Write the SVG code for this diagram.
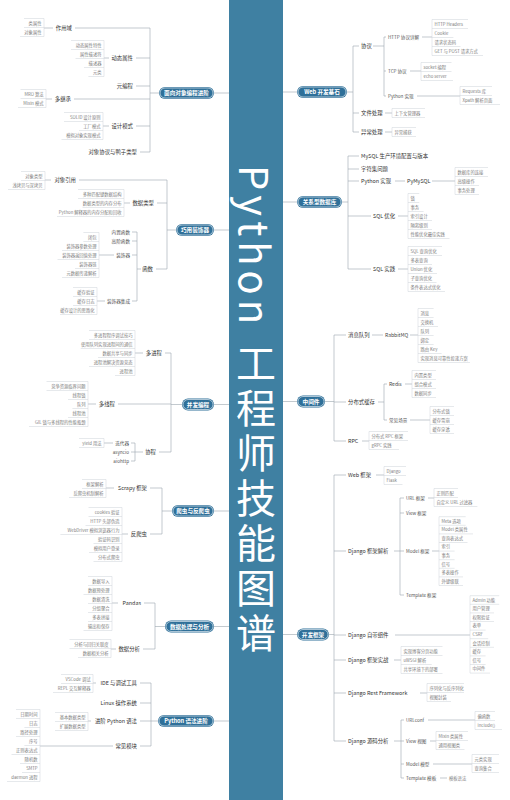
<svg xmlns="http://www.w3.org/2000/svg" width="510" height="800" viewBox="0 0 510 800">
<style>
text{font-family:"Noto Sans CJK SC","Noto Sans",sans-serif}
.c{stroke:#9aa6ae;stroke-width:.6;fill:none}
.bx{stroke:#cdd3d8;stroke-width:.5;fill:none}
.b{font-size:5.4px;fill:#333}
.s{font-size:4.6px;fill:#555}
.m{font-size:5px;fill:#444}
.l{font-size:4.3px;fill:#7d7d7d}
.e{text-anchor:end}
.p{font-size:5.6px;fill:#fff;font-weight:700;text-anchor:middle}
.po{fill:#2f7099}
.pi{fill:none;stroke:#fff;stroke-width:.6}
.title{font-size:40px;fill:#fff;letter-spacing:5px;writing-mode:vertical-rl}
</style>
<rect width="510" height="800" fill="#fff"/>

<!-- central title bar -->
<g id="title">
<rect x="229" y="0" width="54" height="800" fill="#3f80a2"/>
<text class="title" x="256" y="165">Python 工程师技能图谱</text>
</g>

<!-- connectors -->
<g id="connectors" class="c">
<path d="M229,93H214M159,93H150M150,28V152M75,28H150M136,58H150M136,86H150M74,99H150M136,126H150M140,152H150M44,28H53M104,58H109M46,99H52M103,126H109"/>
<path d="M214,230H229M176,230H167M167,180V269M79,180H167M157,203H167M156,269H167M45,180H51M124,203H130M137,269H141M137,232V301M132,232H137M132,241H137M132,255H137M132,301H137M99,255H114M97,301H105"/>
<path d="M214,404.5H229M182,404.5H171M171,353V452M165,353H171M118,404H171M159,452H171M135,353H143M88,404H96M135,452H143M135,443V461M131,443H135M131,452H135M131,461H135M104,443H113"/>
<path d="M214,511H229M172,511H162M162,488V534M150,488H162M150,534H162M106,488H114M122,534H128"/>
<path d="M214,626.5H229M165,626.5H155M155,603V649M144,603H155M143,649H155M112,603H118M111,649H116"/>
<path d="M214,721H229M158,721H151M151,683V746M140,683H151M140,703H151M140,721H151M140,746H151M93,683H96M88,721H91M40,746H113"/>
<path d="M283,92H297M347,92H353M353,46V132M353,46H359M353,113H359M353,132H359M373,46H384M384,37V96M384,37H386M384,71H386M384,96H386M422,37H432M410,71H421M417,96H460M385,113H392M385,132H392"/>
<path d="M283,202H297M342,202H348M348,156V269M348,156H359M348,169H359M348,181H359M348,216H371M348,269H371M395,181H405M432,181H455M398,216H408M398,269H408"/>
<path d="M283,401.5H297M325,401.5H334M334,335V441M334,335H346M334,402H346M334,441H346M372,335H383M410,335H418M378,402H384M384,384V420M384,384H387M384,420H387M405,384H412M410,420H430M362,441H369"/>
<path d="M283,634.5H297M329,634.5H334M334,475V741M334,475H346M334,551H346M334,635H346M334,660H346M334,693H346M334,741H346M376,475H384M394,551H400M400,498V595M400,498H404M400,513H404M400,551H404M400,595H404M428,498H434M432,551H439M395,635H470M394,660H401M420,693H427M394,741H401M401,720V778M401,720H404M401,741H404M401,764H404M401,778H404M428,720H475M430,741H436M433,764H472M440,778H447"/>
</g>

<!-- left: object oriented -->
<g id="oop">
<rect class="po" x="159" y="87" width="55" height="12" rx="6"/><rect class="pi" x="160" y="88" width="53" height="10" rx="5"/>
<text class="p" x="186.5" y="95">面向对象编程进阶</text>
<g id="oop-scope">
<text class="b e" x="72" y="30">作用域</text>
<path class="bx" d="M44,18.5V36.5M44,18.5h-20M44,27.5h-20M44,36.5h-24"/>
<text class="l e" x="41.5" y="24.6">类属性</text><text class="l e" x="41.5" y="33.6">对象属性</text>
</g>
<g id="oop-dyn">
<text class="b e" x="133" y="60">动态属性</text>
<path class="bx" d="M104,40.5V76.5M104,40.5h-33M104,49.5h-33M104,58.5h-28.5M104,67.5h-20M104,76.5h-15.6"/>
<text class="l e" x="101.5" y="46.6">动态属性特性</text><text class="l e" x="101.5" y="55.6">属性描述符</text><text class="l e" x="101.5" y="64.6">描述器</text><text class="l e" x="101.5" y="73.6">元类</text>
</g>
<g id="oop-meta"><text class="b e" x="133" y="88">元编程</text></g>
<g id="oop-mi">
<text class="b e" x="71" y="101">多继承</text>
<path class="bx" d="M46,89.5V107.5M46,89.5h-25.5M46,98.5h-25.5M46,107.5h-28"/>
<text class="l e" x="43.5" y="95.6">MRO 算法</text><text class="l e" x="43.5" y="104.6">Mixin 模式</text>
</g>
<g id="oop-dp">
<text class="b e" x="133" y="128">设计模式</text>
<path class="bx" d="M103,112.5V139.5M103,112.5h-39M103,121.5h-39M103,130.5h-24M103,139.5h-41.5"/>
<text class="l e" x="100.5" y="118.6">SOLID 设计原则</text><text class="l e" x="100.5" y="127.6">工厂模式</text><text class="l e" x="100.5" y="136.6">模拟对象实现模式</text>
</g>
<g id="oop-duck"><text class="b e" x="137" y="154">对象协议与鸭子类型</text></g>
</g>

<!-- left: decorators -->
<g id="decorator">
<rect class="po" x="176" y="224" width="38" height="12" rx="6"/><rect class="pi" x="177" y="225" width="36" height="10" rx="5"/>
<text class="p" x="195" y="232">巧用装饰器</text>
<g id="dec-ref">
<text class="b e" x="76" y="182">对象引用</text>
<path class="bx" d="M45,171.5V189.5M45,171.5h-24M45,180.5h-24M45,189.5h-37"/>
<text class="l e" x="42.5" y="177.6">对象类型</text><text class="l e" x="42.5" y="186.6">浅拷贝与深拷贝</text>
</g>
<g id="dec-types">
<text class="b e" x="154" y="205">数据类型</text>
<path class="bx" d="M124,189.5V216.5M124,189.5h-46M124,198.5h-46M124,207.5h-41.5M124,216.5h-67"/>
<text class="l e" x="121.5" y="195.6">多种匹配键数据结构</text><text class="l e" x="121.5" y="204.6">数据类型的内存分布</text><text class="l e" x="121.5" y="213.6">Python 解释器的内存分配和回收</text>
</g>
<g id="dec-func">
<text class="b e" x="153" y="271">函数</text>
<text class="s e" x="130" y="233.7">内置函数</text>
<text class="s e" x="130" y="242.7">高阶函数</text>
<text class="s e" x="130" y="256.7">装饰器</text>
<text class="s e" x="130" y="302.7">装饰器集成</text>
<path class="bx" d="M99,232.5V277.5M99,232.5h-15.6M99,241.5h-15.6M99,250.5h-37M99,259.5h-41.5M99,268.5h-24M99,277.5h-37"/>
<text class="l e" x="96.5" y="238.6">闭包</text><text class="l e" x="96.5" y="247.6">装饰器参数处理</text><text class="l e" x="96.5" y="256.6">装饰器返回值处理</text><text class="l e" x="96.5" y="265.6">装饰器链</text><text class="l e" x="96.5" y="274.6">元数据传递解析</text>
<path class="bx" d="M97,287.5V314.5M97,287.5h-24M97,296.5h-24M97,305.5h-24M97,314.5h-37"/>
<text class="l e" x="94.5" y="293.6">缓存验证</text><text class="l e" x="94.5" y="302.6">缓存日志</text><text class="l e" x="94.5" y="311.6">缓存设计的思路化</text>
</g>
</g>

<!-- left: concurrency -->
<g id="concurrency">
<rect class="po" x="182" y="398.5" width="32" height="12" rx="6"/><rect class="pi" x="183" y="399.5" width="30" height="10" rx="5"/>
<text class="p" x="198" y="406.5">并发编程</text>
<g id="con-proc">
<text class="b e" x="162" y="355">多进程</text>
<path class="bx" d="M135,330.5V375.5M135,330.5h-46M135,339.5h-46M135,348.5h-54.3M135,357.5h-37M135,366.5h-46M135,375.5h-20"/>
<text class="l e" x="132.5" y="336.6">多进程程序调试技巧</text><text class="l e" x="132.5" y="345.6">使用队列实现进程间的通信</text><text class="l e" x="132.5" y="354.6">数据共享与同步</text><text class="l e" x="132.5" y="363.6">进程池解决资源竞态</text><text class="l e" x="132.5" y="372.6">进程池</text>
</g>
<g id="con-thread">
<text class="b e" x="115" y="406">多线程</text>
<path class="bx" d="M88,381.5V426.5M88,381.5h-41.5M88,390.5h-41.5M88,399.5h-20M88,408.5h-15.6M88,417.5h-20M88,426.5h-59"/>
<text class="l e" x="85.5" y="387.6">竞争资源临界问题</text><text class="l e" x="85.5" y="396.6">线程锁</text><text class="l e" x="85.5" y="405.6">队列</text><text class="l e" x="85.5" y="414.6">线程池</text><text class="l e" x="85.5" y="423.6">GIL 锁与多线程的性能瓶颈</text>
</g>
<g id="con-co">
<text class="b e" x="156" y="454">协程</text>
<text class="s e" x="129" y="444.7">迭代器</text>
<text class="s e" x="129" y="453.7">asyncio</text>
<text class="s e" x="129" y="462.7">aiohttp</text>
<path class="bx" d="M104,438.5V447.5M104,438.5h-25M104,447.5h-25"/>
<text class="l e" x="101.5" y="444.6">yield 用法</text>
</g>
</g>

<!-- left: crawler -->
<g id="crawler">
<rect class="po" x="172" y="505" width="42" height="12" rx="6"/><rect class="pi" x="173" y="506" width="40" height="10" rx="5"/>
<text class="p" x="193" y="513">爬虫与反爬虫</text>
<g id="cr-scrapy">
<text class="b e" x="147" y="490">Scrapy 框架</text>
<path class="bx" d="M106,479.5V497.5M106,479.5h-24M106,488.5h-24M106,497.5h-37"/>
<text class="l e" x="103.5" y="485.6">框架解析</text><text class="l e" x="103.5" y="494.6">反爬虫机制解析</text>
</g>
<g id="cr-anti">
<text class="b e" x="147" y="536">反爬虫</text>
<path class="bx" d="M122,507.5V561.5M122,507.5h-33.5M122,516.5h-33.5M122,525.5h-36.5M122,534.5h-61.6M122,543.5h-28.5M122,552.5h-33M122,561.5h-28.5"/>
<text class="l e" x="119.5" y="513.6">cookies 验证</text><text class="l e" x="119.5" y="522.6">HTTP 头部伪造</text><text class="l e" x="119.5" y="531.6">WebDriver 模拟浏览器行为</text><text class="l e" x="119.5" y="540.6">验证码识别</text><text class="l e" x="119.5" y="549.6">模拟用户登录</text><text class="l e" x="119.5" y="558.6">分布式爬虫</text>
</g>
</g>

<!-- left: data processing -->
<g id="data">
<rect class="po" x="165" y="620.5" width="49" height="12" rx="6"/><rect class="pi" x="166" y="621.5" width="47" height="10" rx="5"/>
<text class="p" x="189.5" y="628.5">数据处理与分析</text>
<g id="data-pandas">
<text class="b e" x="141" y="605">Pandas</text>
<path class="bx" d="M112,576.5V630.5M112,576.5h-24M112,585.5h-24M112,594.5h-28.5M112,603.5h-24M112,612.5h-24M112,621.5h-24M112,630.5h-28.5"/>
<text class="l e" x="109.5" y="582.6">数据导入</text><text class="l e" x="109.5" y="591.6">数据预处理</text><text class="l e" x="109.5" y="600.6">数据清洗</text><text class="l e" x="109.5" y="609.6">分组聚合</text><text class="l e" x="109.5" y="618.6">多表拼接</text><text class="l e" x="109.5" y="627.6">输出和保存</text>
</g>
<g id="data-analysis">
<text class="b e" x="140" y="651">数据分析</text>
<path class="bx" d="M111,639.5V657.5M111,639.5h-41.5M111,648.5h-41.5M111,657.5h-33"/>
<text class="l e" x="108.5" y="645.6">分析与回归关联度</text><text class="l e" x="108.5" y="654.6">数据相关分析</text>
</g>
</g>

<!-- left: python syntax -->
<g id="syntax">
<rect class="po" x="158" y="715" width="56" height="12" rx="6"/><rect class="pi" x="159" y="716" width="54" height="10" rx="5"/>
<text class="p" x="186" y="723">Python 语法进阶</text>
<g id="syn-ide">
<text class="b e" x="137" y="685">IDE 与调试工具</text>
<path class="bx" d="M93,674.5V692.5M93,674.5h-32M93,683.5h-32M93,692.5h-40"/>
<text class="l e" x="90.5" y="680.6">VSCode 调试</text><text class="l e" x="90.5" y="689.6">REPL 交互解释器</text>
</g>
<g id="syn-linux"><text class="b e" x="137" y="705">Linux 操作系统</text></g>
<g id="syn-adv">
<text class="b e" x="137" y="723">进阶 Python 语法</text>
<path class="bx" d="M88,712.5V730.5M88,712.5h-33M88,721.5h-33M88,730.5h-33"/>
<text class="l e" x="85.5" y="718.6">基本数据类型</text><text class="l e" x="85.5" y="727.6">扩展数据类型</text>
</g>
<g id="syn-mod">
<text class="b e" x="137" y="748">常见模块</text>
<path class="bx" d="M40,709.5V781.5M40,709.5h-24M40,718.5h-24M40,727.5h-15.6M40,736.5h-24M40,745.5h-15.6M40,754.5h-28.5M40,763.5h-20M40,772.5h-18M40,781.5h-33"/>
<text class="l e" x="37.5" y="715.6">日期时间</text><text class="l e" x="37.5" y="724.6">日志</text><text class="l e" x="37.5" y="733.6">路径处理</text><text class="l e" x="37.5" y="742.6">序号</text><text class="l e" x="37.5" y="751.6">正则表达式</text><text class="l e" x="37.5" y="760.6">随机数</text><text class="l e" x="37.5" y="769.6">SMTP</text><text class="l e" x="37.5" y="778.6">daemon 进程</text>
</g>
</g>

<!-- right: web basics -->
<g id="web">
<rect class="po" x="297" y="86" width="50" height="12" rx="6"/><rect class="pi" x="298" y="87" width="48" height="10" rx="5"/>
<text class="p" x="322" y="94">Web 开发基石</text>
<g id="web-proto">
<text class="b" x="361" y="48">协议</text>
<text class="s" x="388" y="38.7">HTTP 协议详解</text>
<path class="bx" d="M432,19.5V55.5M432,19.5h36M432,28.5h36M432,37.5h21.4M432,46.5h28.5M432,55.5h51"/>
<text class="l" x="434.5" y="25.6">HTTP Headers</text><text class="l" x="434.5" y="34.6">Cookie</text><text class="l" x="434.5" y="43.6">请求状态码</text><text class="l" x="434.5" y="52.6">GET 与 POST 请求方式</text>
<text class="s" x="388" y="72.7">TCP 协议</text>
<path class="bx" d="M421,62.5V80.5M421,62.5h30.5M421,71.5h30.5M421,80.5h32"/>
<text class="l" x="423.5" y="68.6">socket 编程</text><text class="l" x="423.5" y="77.6">echo server</text>
<text class="s" x="388" y="97.7">Python 实现</text>
<path class="bx" d="M460,86.5V104.5M460,86.5h32M460,95.5h32M460,104.5h40"/>
<text class="l" x="462.5" y="92.6">Requests 库</text><text class="l" x="462.5" y="101.6">Xpath 解析页面</text>
</g>
<g id="web-file">
<text class="b" x="361" y="115">文件处理</text>
<path class="bx" d="M392,108.5V117.5M392,108.5h33M392,117.5h33"/>
<text class="l" x="394.5" y="114.6">上下文管理器</text>
</g>
<g id="web-exc">
<text class="b" x="361" y="134">异常处理</text>
<path class="bx" d="M392,127.5V136.5M392,127.5h24M392,136.5h24"/>
<text class="l" x="394.5" y="133.6">异常捕获</text>
</g>
</g>

<!-- right: relational databases -->
<g id="rdb">
<rect class="po" x="297" y="196" width="45" height="12" rx="6"/><rect class="pi" x="298" y="197" width="43" height="10" rx="5"/>
<text class="p" x="319.5" y="204">关系型数据库</text>
<g id="rdb-mysql"><text class="b" x="361" y="158">MySQL 生产环境配置与版本</text></g>
<g id="rdb-charset"><text class="b" x="361" y="171">字符集问题</text></g>
<g id="rdb-py">
<text class="b" x="361" y="183">Python 实现</text>
<text class="b" x="407" y="183">PyMySQL</text>
<path class="bx" d="M455,167.5V194.5M455,167.5h33M455,176.5h33M455,185.5h24M455,194.5h24"/>
<text class="l" x="457.5" y="173.6">数据库的连接</text><text class="l" x="457.5" y="182.6">高级操作</text><text class="l" x="457.5" y="191.6">事务处理</text>
</g>
<g id="rdb-opt">
<text class="b" x="373" y="218">SQL 优化</text>
<path class="bx" d="M408,193.5V238.5M408,193.5h11.3M408,202.5h11.3M408,211.5h15.6M408,220.5h24M408,229.5h24M408,238.5h41.5"/>
<text class="l" x="410.5" y="199.6">锁</text><text class="l" x="410.5" y="208.6">事务</text><text class="l" x="410.5" y="217.6">索引设计</text><text class="l" x="410.5" y="226.6">隔离级别</text><text class="l" x="410.5" y="235.6">性能优化最佳实践</text>
</g>
<g id="rdb-practice">
<text class="b" x="373" y="271">SQL 实践</text>
<path class="bx" d="M408,246.5V291.5M408,246.5h34M408,255.5h34M408,264.5h24M408,273.5h29M408,282.5h28.5M408,291.5h37"/>
<text class="l" x="410.5" y="252.6">SQL 查询优化</text><text class="l" x="410.5" y="261.6">多表查询</text><text class="l" x="410.5" y="270.6">Union 优化</text><text class="l" x="410.5" y="279.6">子查询优化</text><text class="l" x="410.5" y="288.6">条件表达式优化</text>
</g>
</g>

<!-- right: middleware -->
<g id="middleware">
<rect class="po" x="297" y="395.5" width="28" height="12" rx="6"/><rect class="pi" x="298" y="396.5" width="26" height="10" rx="5"/>
<text class="p" x="311" y="403.5">中间件</text>
<g id="mw-mq">
<text class="b" x="348" y="337">消息队列</text>
<text class="m" x="385" y="336.8">RabbitMQ</text>
<path class="bx" d="M418,308.5V362.5M418,308.5h15.6M418,317.5h15.6M418,326.5h20M418,335.5h15.6M418,344.5h15.6M418,353.5h23.6M418,362.5h52"/>
<text class="l" x="420.5" y="314.6">消息</text><text class="l" x="420.5" y="323.6">交换机</text><text class="l" x="420.5" y="332.6">队列</text><text class="l" x="420.5" y="341.6">绑定</text><text class="l" x="420.5" y="350.6">路由 Key</text><text class="l" x="420.5" y="359.6">实现消息可靠性投递方案</text>
</g>
<g id="mw-cache">
<text class="b" x="348" y="404">分布式缓存</text>
<text class="m" x="389" y="385.8">Redis</text>
<path class="bx" d="M412,370.5V397.5M412,370.5h24M412,379.5h24M412,388.5h24M412,397.5h24"/>
<text class="l" x="414.5" y="376.6">内置类型</text><text class="l" x="414.5" y="385.6">组合模式</text><text class="l" x="414.5" y="394.6">数据同步</text>
<text class="s" x="389" y="421.7">常见场景</text>
<path class="bx" d="M430,406.5V433.5M430,406.5h24M430,415.5h24M430,424.5h24M430,433.5h24"/>
<text class="l" x="432.5" y="412.6">分布式锁</text><text class="l" x="432.5" y="421.6">缓存雪崩</text><text class="l" x="432.5" y="430.6">缓存穿透</text>
</g>
<g id="mw-rpc">
<text class="b" x="348" y="443">RPC</text>
<path class="bx" d="M369,431.5V449.5M369,431.5h39M369,440.5h39M369,449.5h30"/>
<text class="l" x="371.5" y="437.6">分布式 RPC 框架</text><text class="l" x="371.5" y="446.6">gRPC 实践</text>
</g>
</g>

<!-- right: frameworks -->
<g id="framework">
<rect class="po" x="297" y="628.5" width="32" height="12" rx="6"/><rect class="pi" x="298" y="629.5" width="30" height="10" rx="5"/>
<text class="p" x="313" y="636.5">开发框架</text>
<g id="fw-web">
<text class="b" x="348" y="477">Web 框架</text>
<path class="bx" d="M384,466.5V484.5M384,466.5h22M384,475.5h22M384,484.5h18.5"/>
<text class="l" x="386.5" y="472.6">Django</text><text class="l" x="386.5" y="481.6">Flask</text>
</g>
<g id="fw-parse">
<text class="b" x="348" y="553">Django 框架解析</text>
<text class="s" x="406" y="499.7">URL 框架</text>
<path class="bx" d="M434,488.5V506.5M434,488.5h24M434,497.5h24M434,506.5h43.4"/>
<text class="l" x="436.5" y="494.6">正则匹配</text><text class="l" x="436.5" y="503.6">自定义 URL 过滤器</text>
<text class="s" x="406" y="514.7">View 框架</text>
<text class="s" x="406" y="552.7">Model 框架</text>
<path class="bx" d="M439,516.7V585.5M439,516.7h26.7M439,525.3h26.7M439,533.9h34M439,542.5h28.5M439,551.1h15.6M439,559.7h15.6M439,568.3h15.6M439,576.9h24M439,585.5h24"/>
<text class="l" x="441.5" y="522.6">Meta 选项</text><text class="l" x="441.5" y="531.2">Model 类属性</text><text class="l" x="441.5" y="539.8">查询表达式</text><text class="l" x="441.5" y="548.4">索引</text><text class="l" x="441.5" y="557">事务</text><text class="l" x="441.5" y="565.6">信号</text><text class="l" x="441.5" y="574.2">多表操作</text><text class="l" x="441.5" y="582.8">外键级联</text>
<text class="s" x="406" y="596.7">Template 框架</text>
</g>
<g id="fw-builtin">
<text class="b" x="348" y="637">Django 自带组件</text>
<path class="bx" d="M470,595.7V673.1M470,595.7h29.2M470,604.3h29.2M470,612.9h24M470,621.5h24M470,630.1h15.6M470,638.7h18.2M470,647.3h24M470,655.9h15.6M470,664.5h15.6M470,673.1h20"/>
<text class="l" x="472.5" y="601.6">Admin 功能</text><text class="l" x="472.5" y="610.2">用户管理</text><text class="l" x="472.5" y="618.8">权限验证</text><text class="l" x="472.5" y="627.4">表单</text><text class="l" x="472.5" y="636">CSRF</text><text class="l" x="472.5" y="644.6">会话控制</text><text class="l" x="472.5" y="653.2">缓存</text><text class="l" x="472.5" y="661.8">信号</text><text class="l" x="472.5" y="670.4">中间件</text>
</g>
<g id="fw-practice">
<text class="b" x="348" y="662">Django 框架实战</text>
<path class="bx" d="M401,646.5V673.5M401,646.5h41.5M401,655.5h41.5M401,664.5h30.7M401,673.5h41.5"/>
<text class="l" x="403.5" y="652.6">实现博客分页功能</text><text class="l" x="403.5" y="661.6">uWSGI 解析</text><text class="l" x="403.5" y="670.6">共享环境下的部署</text>
</g>
<g id="fw-drf">
<text class="b" x="348" y="695">Django Rest Framework</text>
<path class="bx" d="M427,683.5V701.5M427,683.5h37M427,692.5h37M427,701.5h24"/>
<text class="l" x="429.5" y="689.6">序列化与反序列化</text><text class="l" x="429.5" y="698.6">视图封装</text>
</g>
<g id="fw-source">
<text class="b" x="348" y="743">Django 源码分析</text>
<text class="s" x="406" y="721.7">URLconf</text>
<path class="bx" d="M475,711.5V729.5M475,711.5h20M475,720.5h20M475,729.5h27"/>
<text class="l" x="477.5" y="717.6">偏函数</text><text class="l" x="477.5" y="726.6">include()</text>
<text class="s" x="406" y="742.7">View 视图</text>
<path class="bx" d="M436,731.5V749.5M436,731.5h32M436,740.5h32M436,749.5h28.5"/>
<text class="l" x="438.5" y="737.6">Mixin 类属性</text><text class="l" x="438.5" y="746.6">通用视图类</text>
<text class="s" x="406" y="765.7">Model 模型</text>
<path class="bx" d="M472,754.5V772.5M472,754.5h27M472,763.5h27M472,772.5h27"/>
<text class="l" x="474.5" y="760.6">元类实现</text><text class="l" x="474.5" y="769.6">查询集合</text>
<text class="s" x="406" y="779.7">Template 模板</text>
<text class="l" x="449" y="779.6">模板语法</text>
</g>
</g>
</svg>
